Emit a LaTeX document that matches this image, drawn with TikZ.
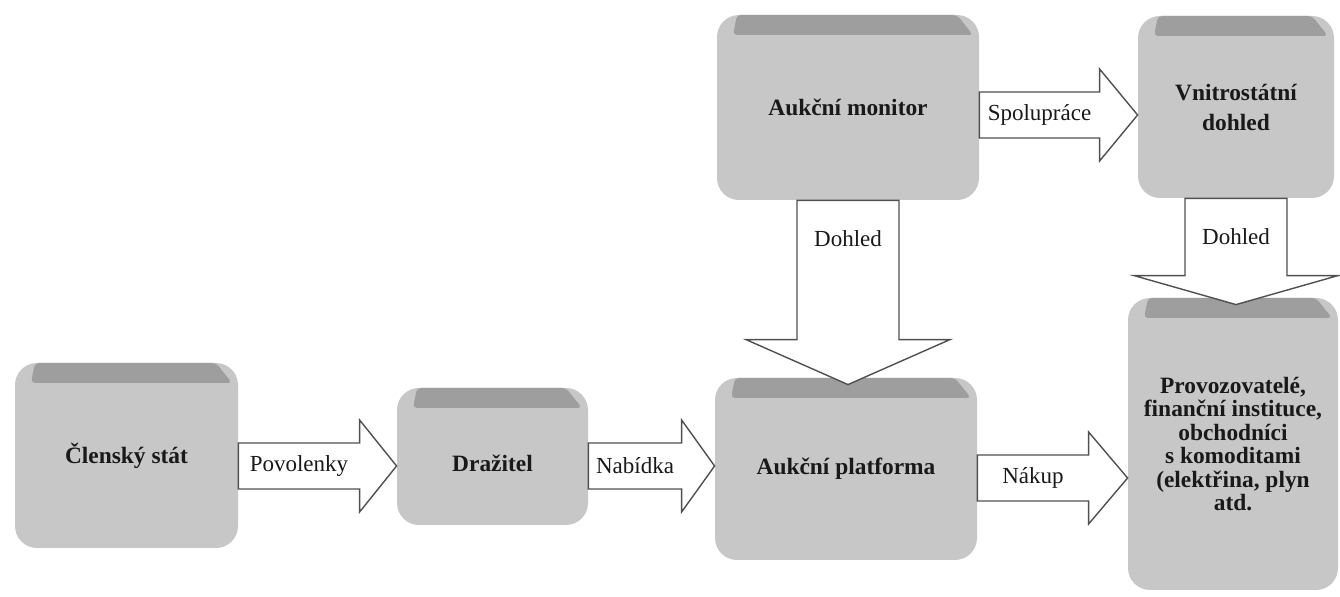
\documentclass[tikz,border=0pt]{standalone}
\usepackage{fontspec}
\setmainfont{Liberation Serif}
\usetikzlibrary{calc}

\definecolor{blokseda}{RGB}{199,199,199}
\definecolor{passeda}{RGB}{158,158,158}
\definecolor{sedalinka}{RGB}{80,80,80}
\definecolor{cerna}{RGB}{25,25,25}

\tikzset{
	blok/.style={fill=blokseda, rounded corners=11pt, inner sep=2pt, align=center, text=cerna,
		font=\fontsize{11.7}{11.7}\selectfont\bfseries,
		path picture={\fill[passeda, rounded corners=2pt]
			($(path picture bounding box.north west)+(20,0)$) --
			($(path picture bounding box.north east)+(-22,0)$) --
			($(path picture bounding box.north east)+(-6,20)$) --
			($(path picture bounding box.north west)+(16,20)$) -- cycle;}},
	sipka/.style={draw=sedalinka, fill=white, line width=0.7pt, line join=miter},
	popis/.style={font=\fontsize{11.5}{13}\selectfont, text=cerna, inner sep=0pt},
}

% vodorovna sipka: od, k, y, delka hrotu, popis
\newcommand{\hsipka}[5]{
	\coordinate (hs1) at (0,#3);
	\coordinate (hsA) at (#1 |- hs1);
	\coordinate (hsB) at (#2 |- hs1);
	\draw[sipka] ($(hsA)+(0,-23)$) -- ($(hsB)+(-#4,-23)$) -- ($(hsB)+(-#4,-46)$) -- (hsB)
		-- ($(hsB)+(-#4,46)$) -- ($(hsB)+(-#4,23)$) -- ($(hsA)+(0,23)$) -- cycle;
	\path (hsA) -- ($(hsB)+(-#4,0)$) node [midway, popis] {#5};
}

% svisla sipka: od, k, delka hrotu, popis
\newcommand{\vsipka}[4]{
	\coordinate (vsA) at (#1);
	\coordinate (vsT) at ($(#1 |- #2)+(0,7)$);
	\draw[sipka] ($(vsA)+(-51,0)$) -- ($(vsT)+(-51,-#3)$) -- ($(vsT)+(-102,-#3)$) -- (vsT)
		-- ($(vsT)+(102,-#3)$) -- ($(vsT)+(51,-#3)$) -- ($(vsA)+(51,0)$) -- cycle;
	\path ($(vsA)+(0,38)$) node [popis] {#4};
}

\begin{document}
\begin{tikzpicture}[x=0.5pt, y=-0.5pt]
	\useasboundingbox (0,0) rectangle (1340,597);

	\node [blok, minimum width=111.5pt, minimum height=92.5pt] (clen) at (126.5,455.5) {Členský stát};
	\node [blok, minimum width=95.5pt, minimum height=68.5pt, text height=1.55em, text depth=0pt] (draz) at (492.5,456.5) {Dražitel};
	\node [blok, minimum width=131pt, minimum height=91pt] (plat) at (846,469) {Aukční platforma};
	\node [blok, minimum width=131pt, minimum height=92.5pt] (mon) at (848,107.5) {Aukční monitor};
	\node [blok, minimum width=98pt, minimum height=91pt, font=\fontsize{11.7}{15}\selectfont\bfseries] (dohl) at (1236,107) {Vnitrostátní\\dohled};
	\node [blok, minimum width=105pt, minimum height=146pt] (obch) at (1233,444) {Provozovatelé,\\finanční instituce,\\obchodníci\\s komoditami\\(elektřina, plyn\\atd.};

	\hsipka{clen.east}{draz.west}{466}{37}{Povolenky}
	\hsipka{draz.east}{plat.west}{466}{33}{Nabídka}
	\hsipka{plat.east}{obch.west}{478}{39}{Nákup}
	\hsipka{mon.east}{dohl.west}{115}{38}{Spolupráce}

	\vsipka{mon.south}{plat.north}{45}{Dohled}
	\vsipka{dohl.south}{obch.north}{29}{Dohled}
\end{tikzpicture}
\end{document}
